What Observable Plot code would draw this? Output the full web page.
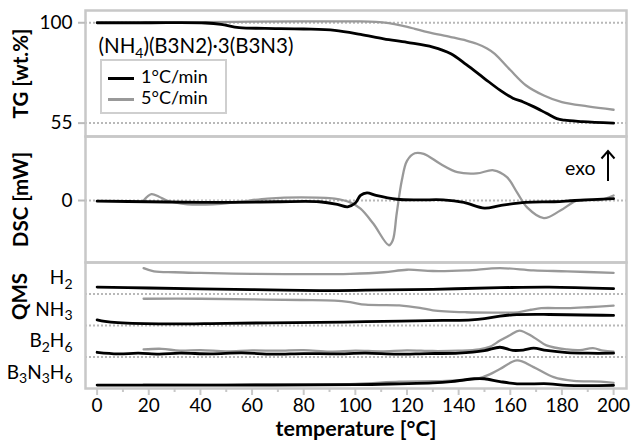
<!DOCTYPE html>
<html><head><meta charset="utf-8">
<script src="https://cdn.jsdelivr.net/npm/d3@7"></script>
<script src="https://cdn.jsdelivr.net/npm/@observablehq/plot@0.6"></script>
<style>
body{margin:0;background:#fff;font-family:Lato,sans-serif}
#chart{position:relative;width:631px;height:443px;overflow:hidden}
#chart svg{position:absolute;left:0;top:0}
#legend{position:absolute;left:100px;top:59px;width:123px;height:51px;border:2px solid #cfcfcf;background:#fff;font:18px Lato,sans-serif}
.row{position:absolute;left:6px;height:21px;line-height:21px;white-space:nowrap}
.sw{display:inline-block;width:26px;height:3px;vertical-align:middle;margin-right:7px}
</style></head><body><div id="chart"></div>
<script>
// ---------- data ----------
const xDomain = [-4.5, 205];
const seriesNames = ["1°C/min", "5°C/min"];
const seriesColors = ["#000000", "#999999"];

// TG [wt.%]
const tg1T = [0, 20, 42, 48, 55, 65, 80, 92, 102, 111, 120, 130, 137, 143, 150, 156, 161, 165, 169, 174, 178, 181, 188, 200];
const tg1V = [100, 100, 99.9, 99.3, 97.8, 97.5, 97.2, 96.6, 94.8, 92.8, 91.2, 89.1, 86.1, 81.2, 75.0, 69.8, 66.2, 64.5, 62.4, 59.4, 57.0, 56.3, 55.7, 55.0];
const tg5T = [18, 40, 60, 80, 100, 108, 113, 118, 123, 128, 137, 143, 147, 151, 154, 160, 166, 173, 180, 190, 200];
const tg5V = [100, 100.3, 100.5, 100.6, 100.6, 100.4, 99.8, 98.7, 97.3, 95.8, 93.6, 92.0, 90.6, 88.5, 86.1, 78.8, 72.0, 67.4, 64.4, 62.5, 61.0];
const tgTicks = [55, 100];

// DSC [mW]
const dsc1T = [0, 20, 40, 53, 70, 86, 93, 97, 100, 102, 104.5, 108, 116, 125, 134, 142, 150, 156, 166, 177, 185, 200];
const dsc1V = [-0.01, -0.02, -0.03, -0.03, -0.02, -0.02, -0.06, -0.1, -0.04, 0.08, 0.12, 0.08, 0.02, 0.01, 0.01, -0.03, -0.12, -0.08, -0.03, -0.02, 0.0, 0.03];
const dsc5T = [18, 21, 24, 27, 35, 45, 55, 66, 79, 92, 98, 102, 107, 113, 114.5, 116, 118, 120, 123, 126.5, 133, 139.5, 147, 153.5, 158.7, 162.6, 166.5, 173, 179.4, 186, 195, 200];
const dsc5V = [0.0, 0.1, 0.06, 0.0, -0.06, -0.06, -0.02, 0.03, 0.05, 0.03, -0.03, -0.13, -0.37, -0.71, -0.63, -0.21, 0.32, 0.63, 0.75, 0.74, 0.58, 0.45, 0.43, 0.48, 0.37, 0.13, -0.11, -0.28, -0.16, 0.0, 0.01, 0.08];
const dscTicks = [0];

// QMS (stacked, arbitrary units; each gas occupies one band)
const qmsNames = ["B_3N_3H_6", "B_2H_6", "NH_3", "H_2"];
const qmsTickPos = [0.5, 1.5, 2.5, 3.5];
const qmsSeparators = [1, 2, 3];
const h2_1T = [0, 20, 40, 60, 86, 104, 130, 156, 175, 200];
const h2_1V = [3.22, 3.19, 3.16, 3.14, 3.11, 3.12, 3.15, 3.2, 3.22, 3.17];
const h2_5T = [18, 22, 30, 40, 60, 79, 98, 111, 120, 130, 143, 156, 169, 182, 200];
const h2_5V = [3.82, 3.72, 3.69, 3.67, 3.64, 3.63, 3.64, 3.69, 3.77, 3.73, 3.75, 3.82, 3.75, 3.72, 3.67];
const nh3_1T = [0, 3, 8, 27, 50, 86, 104, 134, 145, 150, 156, 161, 175, 200];
const nh3_1V = [2.18, 2.13, 2.09, 2.05, 2.07, 2.1, 2.12, 2.16, 2.18, 2.22, 2.3, 2.34, 2.35, 2.32];
const nh3_5T = [18, 40, 60, 79, 92, 98, 104, 117, 125, 130, 143, 153, 163, 168, 172, 182, 190, 200];
const nh3_5V = [2.85, 2.85, 2.83, 2.81, 2.79, 2.74, 2.66, 2.64, 2.56, 2.48, 2.42, 2.41, 2.42, 2.5, 2.55, 2.55, 2.58, 2.63];
const b2h6_1T = [0, 8, 16, 24, 32, 44, 56, 68, 80, 92, 104, 116, 128, 140, 150, 156, 161, 165, 169, 174, 182, 190, 200];
const b2h6_1V = [1.15, 1.1, 1.12, 1.09, 1.12, 1.1, 1.13, 1.09, 1.11, 1.1, 1.12, 1.09, 1.11, 1.12, 1.2, 1.31, 1.21, 1.22, 1.28, 1.21, 1.14, 1.12, 1.12];
const b2h6_5T = [18, 25, 32, 40, 50, 60, 70, 80, 90, 100, 110, 120, 130, 140, 148, 152, 156, 160, 163.5, 169, 174, 182, 187, 192, 196, 200];
const b2h6_5V = [1.24, 1.26, 1.2, 1.22, 1.18, 1.21, 1.2, 1.22, 1.17, 1.2, 1.18, 1.21, 1.19, 1.2, 1.24, 1.32, 1.52, 1.7, 1.84, 1.63, 1.37, 1.24, 1.22, 1.28, 1.2, 1.17];
const b3n3h6_1T = [0, 50, 100, 117, 130, 137, 142, 146, 150, 156, 162.6, 175, 182, 200];
const b3n3h6_1V = [0.11, 0.11, 0.12, 0.15, 0.18, 0.22, 0.27, 0.31, 0.31, 0.22, 0.15, 0.15, 0.1, 0.1];
const b3n3h6_5T = [18, 60, 100, 117, 130, 137, 144, 148, 152, 156, 162.6, 169, 176.8, 184.6, 195, 200];
const b3n3h6_5V = [0.12, 0.12, 0.15, 0.22, 0.23, 0.25, 0.28, 0.33, 0.45, 0.62, 0.89, 0.68, 0.36, 0.24, 0.22, 0.18];

const xMajor = d3.range(0, 201, 20);
const xMinor = d3.range(10, 200, 20);
const titleText = "(NH_4)(B3N2)·3(B3N3)";

// ---------- helpers ----------
const rows = (ts, vs, s, g = "") => ts.map((t, i) => ({t, v: vs[i], s, g: g + s}));
const frameColor = "#c8c8c8";
const gridOpts = {stroke: "#b8b8b8", strokeWidth: 2, strokeDasharray: "2,2"};
const tickFont = 19, labelFont = 20.5;
const lineMarks = (data5, data1) => [
  Plot.line(data5, {x: "t", y: "v", z: "g", stroke: seriesColors[1], strokeWidth: 2.3, curve: "catmull-rom"}),
  Plot.line(data1, {x: "t", y: "v", z: "g", stroke: seriesColors[0], strokeWidth: 2.8, curve: "catmull-rom"})
];
function panel(top, bottom, yDomain, marks) {
  return Plot.plot({
    width: 631, height: 443,
    marginLeft: 85, marginRight: 5, marginTop: top, marginBottom: 443 - bottom,
    style: {background: "transparent", fontFamily: "Lato, sans-serif", fontSize: tickFont + "px", color: "#000", overflow: "visible"},
    x: {domain: xDomain, axis: null},
    y: {domain: yDomain, axis: null},
    marks
  });
}
const yTickMarks = (ticks) => [
  Plot.axisY({ticks, tickSize: 7, stroke: "#bbbbbb", strokeWidth: 2, tickFormat: () => "", label: null}),
  Plot.axisY({ticks, tickSize: 0, tickPadding: 13, label: null, fontSize: tickFont, tickFormat: d => String(d)})
];
const yLabel = (txt, opts = {}) => Plot.text([txt], {frameAnchor: "left", dx: -64, rotate: -90, textAnchor: "middle", lineAnchor: "middle", fontWeight: "bold", fontSize: labelFont, ...opts});

// ---------- panels ----------
const tgPlot = panel(10, 136, [49, 105.5], [
  Plot.ruleY(tgTicks, gridOpts),
  ...lineMarks(rows(tg5T, tg5V, "5"), rows(tg1T, tg1V, "1")),
  Plot.frame({stroke: frameColor, strokeWidth: 2.5}),
  ...yTickMarks(tgTicks),
  yLabel("TG [wt.%]"),
  Plot.text([titleText], {frameAnchor: "top-left", dx: 13, dy: 36, textAnchor: "start", lineAnchor: "middle", fontSize: 20.5})
]);

const dscPlot = panel(136, 262, [-0.984, 1.016], [
  Plot.ruleY(dscTicks, gridOpts),
  ...lineMarks(rows(dsc5T, dsc5V, "5"), rows(dsc1T, dsc1V, "1")),
  Plot.frame({stroke: frameColor, strokeWidth: 2.5}),
  ...yTickMarks(dscTicks),
  yLabel("DSC [mW]"),
  Plot.text(["exo"], {frameAnchor: "top-right", dx: -31, dy: 32, textAnchor: "end", lineAnchor: "middle", fontSize: 19.5})
]);

const qms5 = [
  ...rows(h2_5T, h2_5V, "5", "h2"), ...rows(nh3_5T, nh3_5V, "5", "nh3"),
  ...rows(b2h6_5T, b2h6_5V, "5", "b2h6"), ...rows(b3n3h6_5T, b3n3h6_5V, "5", "b3n3h6")
];
const qms1 = [
  ...rows(h2_1T, h2_1V, "1", "h2"), ...rows(nh3_1T, nh3_1V, "1", "nh3"),
  ...rows(b2h6_1T, b2h6_1V, "1", "b2h6"), ...rows(b3n3h6_1T, b3n3h6_1V, "1", "b3n3h6")
];
const qmsPlot = panel(262, 388, [0, 4], [
  Plot.ruleY(qmsSeparators, gridOpts),
  ...lineMarks(qms5, qms1),
  Plot.frame({stroke: frameColor, strokeWidth: 2.5}),
  Plot.axisY({ticks: qmsTickPos, tickSize: 0, tickPadding: 13, label: null, fontSize: tickFont, tickFormat: d => qmsNames[qmsTickPos.indexOf(d)]}),
  Plot.text(["QMS"], {frameAnchor: "top-left", dx: -65, dy: 34, rotate: -90, textAnchor: "middle", lineAnchor: "middle", fontWeight: "bold", fontSize: labelFont}),
  Plot.axisX({ticks: xMajor, tickSize: 7, stroke: frameColor, strokeWidth: 2, tickFormat: () => "", label: null}),
  Plot.axisX({ticks: xMinor, tickSize: 4, stroke: frameColor, strokeWidth: 2, tickFormat: () => "", label: null}),
  Plot.axisX({ticks: xMajor, tickSize: 0, tickPadding: 10, label: null, fontSize: tickFont}),
  Plot.text(["temperature [°C]"], {frameAnchor: "bottom", dy: 41, lineAnchor: "middle", fontWeight: "bold", fontSize: 21.5})
]);

// subscripts: "_x" -> subscript x
function subify(svg) {
  svg.querySelectorAll("text").forEach(t => {
    const leaves = t.querySelector("tspan") ? [...t.querySelectorAll("tspan")] : [t];
    leaves.forEach(el => {
      const s = el.textContent;
      if (!s.includes("_")) return;
      el.textContent = "";
      const parts = s.split(/_(.)/);
      let shifted = false;
      parts.forEach((p, i) => {
        if (p === "") return;
        const ts = document.createElementNS("http://www.w3.org/2000/svg", "tspan");
        ts.textContent = p;
        if (i % 2 === 1) {
          ts.setAttribute("font-size", "14");
          if (!shifted) { ts.setAttribute("dy", "4.5"); shifted = true; }
        } else if (shifted) {
          ts.setAttribute("dy", "-4.5"); shifted = false;
        }
        el.appendChild(ts);
      });
    });
  });
}

const chart = document.getElementById("chart");
[tgPlot, dscPlot, qmsPlot].forEach(p => { subify(p); chart.appendChild(p); });

// exo arrow (annotation)
const ns = "http://www.w3.org/2000/svg";
const ann = document.createElementNS(ns, "svg");
ann.setAttribute("width", 631); ann.setAttribute("height", 443);
ann.innerHTML = '<path d="M608,181 V151 M601.5,158.5 L608,151 L614.5,158.5" fill="none" stroke="#000" stroke-width="2"/>';
chart.appendChild(ann);

// legend
const lg = document.createElement("div");
lg.id = "legend";
lg.innerHTML = seriesNames.map((n, i) =>
  `<div class="row" style="top:${5 + i * 21}px"><span class="sw" style="background:${seriesColors[i]}"></span>${n}</div>`).join("");
chart.appendChild(lg);
</script></body></html>
